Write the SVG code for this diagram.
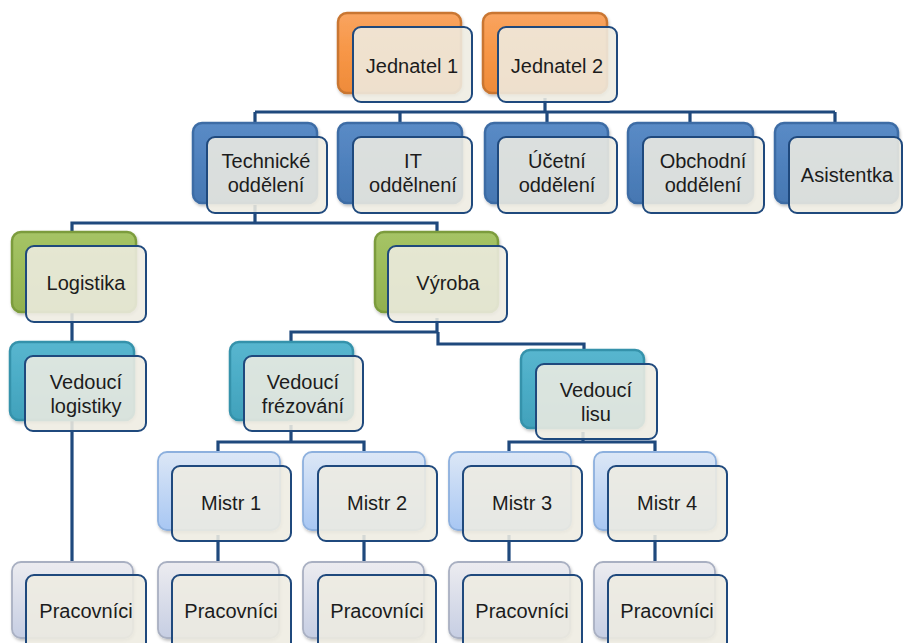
<svg xmlns="http://www.w3.org/2000/svg" width="903" height="643" viewBox="0 0 903 643">
<defs>
<linearGradient id="gO" x1="0" y1="0" x2="0" y2="1"><stop offset="0" stop-color="#F9A460"/><stop offset="0.5" stop-color="#F79646"/><stop offset="1" stop-color="#EE8B3A"/></linearGradient>
<linearGradient id="gB" x1="0" y1="0" x2="0" y2="1"><stop offset="0" stop-color="#5A8BC6"/><stop offset="0.5" stop-color="#4F81BD"/><stop offset="1" stop-color="#4677B2"/></linearGradient>
<linearGradient id="gG" x1="0" y1="0" x2="0" y2="1"><stop offset="0" stop-color="#A6C466"/><stop offset="0.5" stop-color="#9BBB59"/><stop offset="1" stop-color="#91B04F"/></linearGradient>
<linearGradient id="gT" x1="0" y1="0" x2="0" y2="1"><stop offset="0" stop-color="#58B6CF"/><stop offset="0.5" stop-color="#4BACC6"/><stop offset="1" stop-color="#41A1BB"/></linearGradient>
<linearGradient id="gL" x1="0" y1="0" x2="0" y2="1"><stop offset="0" stop-color="#DCE7F6"/><stop offset="1" stop-color="#A8C7F3"/></linearGradient>
<linearGradient id="gP" x1="0" y1="0" x2="0" y2="1"><stop offset="0" stop-color="#ECECF0"/><stop offset="1" stop-color="#C6CEE3"/></linearGradient>
<filter id="sh" x="-10%" y="-10%" width="130%" height="130%"><feDropShadow dx="1" dy="2" stdDeviation="1.5" flood-color="#000" flood-opacity="0.25"/></filter>
</defs>
<style>
.bk{stroke-width:2.5;filter:url(#sh)}
.o{fill:url(#gO);stroke:#C97630}
.b{fill:url(#gB);stroke:#3C6CA5}
.g{fill:url(#gG);stroke:#7C9C3C}
.t{fill:url(#gT);stroke:#3592AB}
.l{fill:url(#gL);stroke:#8DB0DE;stroke-width:1.8}
.p{fill:url(#gP);stroke:#A9B0C2;stroke-width:1.8}
.fr{fill:#EEECE1;fill-opacity:0.88;stroke:#1F497D;stroke-width:2}
.tx{font-family:"Liberation Sans",Arial,sans-serif;font-size:20px;fill:#1c1c1c;text-anchor:middle}
.cn{fill:none;stroke:#1F497D;stroke-width:3.2}
</style>
<g id="connectors" class="cn">
<path d="M545 98 V112"/>
<path d="M255 112 H835"/>
<path d="M255 112 V125 M400 112 V125 M547 112 V125 M690 112 V125 M835 112 V125"/>
<path d="M255 205 V223 M72 232 V223 H437 V234"/>
<path d="M72 312 V562"/>
<path d="M437 318 V332 H291 V343 M438 332 V344 H584 V351"/>
<path d="M291 425 V442 M218 453 V442 H364 V453"/>
<path d="M583 432 V442 M509 453 V442 H655 V453"/>
<path d="M218 535 V563 M364 535 V563 M509 535 V563 M655 535 V563"/>
</g>
<g id="jednatel1"><rect class="bk o" x="338" y="13" width="123" height="80" rx="9"/><rect class="fr" x="353" y="27" width="119" height="75" rx="8"/><text class="tx" x="412" y="73">Jednatel 1</text></g>
<g id="jednatel2"><rect class="bk o" x="483" y="13" width="124" height="80" rx="9"/><rect class="fr" x="498" y="27" width="119" height="75" rx="8"/><text class="tx" x="557" y="73">Jednatel 2</text></g>
<g id="technicke"><rect class="bk b" x="193" y="123" width="124" height="80" rx="9"/><rect class="fr" x="207" y="137" width="120" height="76" rx="8"/><text class="tx" x="266" y="168">Technické</text><text class="tx" x="266" y="192">oddělení</text></g>
<g id="it"><rect class="bk b" x="338" y="123" width="124" height="80" rx="9"/><rect class="fr" x="353" y="137" width="119" height="76" rx="8"/><text class="tx" x="413" y="168">IT</text><text class="tx" x="413" y="192">oddělnení</text></g>
<g id="ucetni"><rect class="bk b" x="485" y="123" width="123" height="80" rx="9"/><rect class="fr" x="498" y="137" width="119" height="76" rx="8"/><text class="tx" x="557" y="168">Účetní</text><text class="tx" x="557" y="192">oddělení</text></g>
<g id="obchodni"><rect class="bk b" x="628" y="123" width="125" height="80" rx="9"/><rect class="fr" x="643" y="137" width="121" height="76" rx="8"/><text class="tx" x="703" y="168">Obchodní</text><text class="tx" x="703" y="192">oddělení</text></g>
<g id="asistentka"><rect class="bk b" x="775" y="123" width="123" height="80" rx="9"/><rect class="fr" x="789" y="137" width="113" height="76" rx="8"/><text class="tx" x="847" y="182">Asistentka</text></g>
<g id="logistika"><rect class="bk g" x="12" y="232" width="124" height="80" rx="9"/><rect class="fr" x="26" y="246" width="120" height="76" rx="8"/><text class="tx" x="86" y="290">Logistika</text></g>
<g id="vyroba"><rect class="bk g" x="375" y="232" width="123" height="80" rx="9"/><rect class="fr" x="388" y="246" width="119" height="76" rx="8"/><text class="tx" x="448" y="290">Výroba</text></g>
<g id="ved-logistiky"><rect class="bk t" x="10" y="342" width="124" height="78" rx="9"/><rect class="fr" x="25" y="356" width="121" height="75" rx="8"/><text class="tx" x="86" y="389">Vedoucí</text><text class="tx" x="86" y="413">logistiky</text></g>
<g id="ved-frezovani"><rect class="bk t" x="230" y="342" width="123" height="78" rx="9"/><rect class="fr" x="244" y="356" width="119" height="75" rx="8"/><text class="tx" x="303" y="389">Vedoucí</text><text class="tx" x="303" y="413">frézování</text></g>
<g id="ved-lisu"><rect class="bk t" x="521" y="350" width="123" height="78" rx="9"/><rect class="fr" x="536" y="364" width="121" height="75" rx="8"/><text class="tx" x="596" y="397">Vedoucí</text><text class="tx" x="596" y="421">lisu</text></g>
<g id="mistr1"><rect class="bk l" x="158" y="452" width="122" height="78" rx="9"/><rect class="fr" x="172" y="466" width="119" height="75" rx="8"/><text class="tx" x="231" y="510">Mistr 1</text></g>
<g id="mistr2"><rect class="bk l" x="303" y="452" width="122" height="78" rx="9"/><rect class="fr" x="318" y="466" width="119" height="75" rx="8"/><text class="tx" x="377" y="510">Mistr 2</text></g>
<g id="mistr3"><rect class="bk l" x="449" y="452" width="122" height="78" rx="9"/><rect class="fr" x="463" y="466" width="119" height="75" rx="8"/><text class="tx" x="522" y="510">Mistr 3</text></g>
<g id="mistr4"><rect class="bk l" x="594" y="452" width="122" height="78" rx="9"/><rect class="fr" x="608" y="466" width="119" height="75" rx="8"/><text class="tx" x="667" y="510">Mistr 4</text></g>
<g id="prac1"><rect class="bk p" x="12" y="562" width="121" height="76" rx="9"/><rect class="fr" x="26" y="575" width="120" height="76" rx="8"/><text class="tx" x="86" y="618">Pracovníci</text></g>
<g id="prac2"><rect class="bk p" x="158" y="562" width="121" height="76" rx="9"/><rect class="fr" x="172" y="575" width="119" height="76" rx="8"/><text class="tx" x="231" y="618">Pracovníci</text></g>
<g id="prac3"><rect class="bk p" x="303" y="562" width="121" height="76" rx="9"/><rect class="fr" x="318" y="575" width="118" height="76" rx="8"/><text class="tx" x="377" y="618">Pracovníci</text></g>
<g id="prac4"><rect class="bk p" x="449" y="562" width="121" height="76" rx="9"/><rect class="fr" x="463" y="575" width="119" height="76" rx="8"/><text class="tx" x="522" y="618">Pracovníci</text></g>
<g id="prac5"><rect class="bk p" x="594" y="562" width="121" height="76" rx="9"/><rect class="fr" x="608" y="575" width="119" height="76" rx="8"/><text class="tx" x="667" y="618">Pracovníci</text></g>
</svg>
